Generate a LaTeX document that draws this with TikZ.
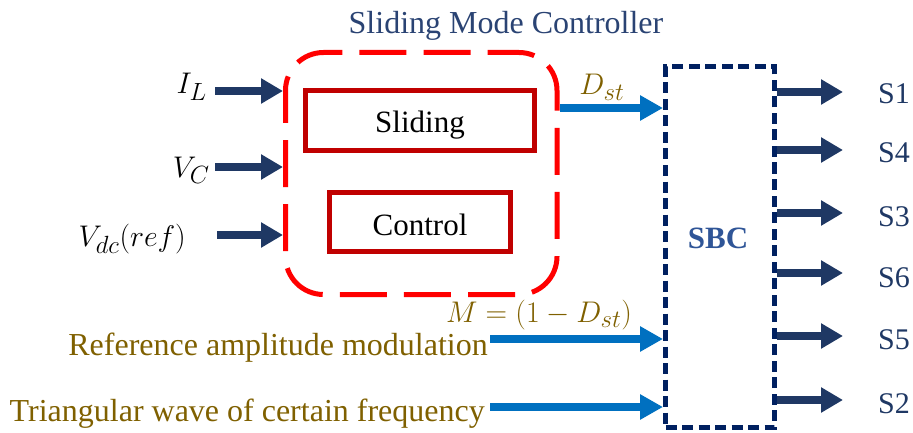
\documentclass[tikz,border=0pt]{standalone}
\usepackage{fontspec}
\setmainfont{Liberation Serif}
\usetikzlibrary{arrows.meta}
\definecolor{navy}{HTML}{1F3864}
\definecolor{titleblue}{HTML}{2A4373}
\definecolor{smcred}{HTML}{FF0000}
\definecolor{blockred}{HTML}{C00000}
\definecolor{sigblue}{HTML}{0070C0}
\definecolor{olive}{HTML}{7F6000}
\definecolor{sbcnavy}{HTML}{002060}
\definecolor{sbctext}{HTML}{2F5597}
\newcommand\fsz[1]{\fontsize{#1}{#1}\selectfont}
% math set at the largest CM size, then enlarged
\newcommand\bigmath[1]{\scalebox{1.2}{$#1$}}
\tikzset{
  navyarr/.style={draw=navy, line width=8pt, -{Triangle[length=22pt,width=24pt]}},
  bluearr/.style={draw=sigblue, line width=8pt, -{Triangle[length=23pt,width=24pt]}},
  txt/.style={inner sep=0pt, anchor=base},
  mathlbl/.style={inner sep=0pt, font=\fsz{24.88}},
  blockbox/.style={draw=blockred, line width=5pt, inner sep=0pt, font=\fsz{31}},
  slabel/.style={inner sep=0pt, anchor=base west, font=\fsz{30}, text=navy},
  % 15 dash periods fit the frame's perimeter exactly
  redframe/.style={draw=smcred, line width=5pt, rounded corners=38pt,
                   dash pattern=on 47pt off 17.12pt, dash phase=47pt},
}
\begin{document}
\begin{tikzpicture}[x=1pt,y=-1pt]
\useasboundingbox (0,0) rectangle (913,433);

% controller frame (open path that ends where it starts) and its two blocks
\node[inner sep=0pt, outer sep=2.5pt, minimum width=271.5pt, minimum height=242pt]
  (smc) at (421.25,173.5) {};
\draw[redframe] ([shift={(2.5pt,50.5pt)}]smc.west) -- ([shift={(2.5pt,2.5pt)}]smc.south west)
  -- ([shift={(-2.5pt,2.5pt)}]smc.south east) -- ([shift={(-2.5pt,-2.5pt)}]smc.north east)
  -- ([shift={(2.5pt,-2.5pt)}]smc.north west) -- ([shift={(2.5pt,50.5pt)}]smc.west);
\node[txt, font=\fsz{32}, text=titleblue] (title) at (506,34) {Sliding Mode Controller};
\node[blockbox, minimum width=229pt, minimum height=60pt] (slide) at (420,120.5) {};
\node[txt, font=\fsz{31}] (slidetxt) at (420,133) {Sliding};
\node[blockbox, minimum width=181pt, minimum height=59pt] (ctrl) at (420,222) {};
\node[txt, font=\fsz{31}] (ctrltxt) at (420,235) {Control};

% switching block
\node[draw=sbcnavy, line width=5pt, dash pattern=on 11pt off 5.5pt,
      minimum width=109pt, minimum height=360.5pt] (sbc) at (720,247.25) {};
\node[txt, font=\bfseries\fsz{31}, text=sbctext] (sbctxt) at (718,248) {SBC};

% measured inputs
\node[mathlbl, anchor=base east] (il) at (207,94) {\bigmath{I_L}};
\node[mathlbl, anchor=base east] (vc) at (210,177) {\bigmath{V_C}};
\node[mathlbl, anchor=base east] (vdc) at (186,246) {\bigmath{V_{dc}(ref)}};
\coordinate (ilt) at (215,91);
\coordinate (vct) at (215,167);
\coordinate (vdct) at (217,235);
\draw[navyarr] (ilt) -- (ilt -| smc.west);
\draw[navyarr] (vct) -- (vct -| smc.west);
\draw[navyarr] (vdct) -- (vdct -| smc.west);

% duty ratio
\draw[bluearr] ([yshift=65.5pt]smc.east) -- ([yshift=65.5pt]smc.east -| sbc.west);
\node[mathlbl, anchor=base, text=olive] (dst) at (602,95) {\bigmath{D_{st}}};

% modulation inputs
\node[mathlbl, anchor=base, text=olive] (mlbl) at (539,322) {\bigmath{M=(1-D_{st})}};
\node[txt, anchor=base east, font=\fsz{32}, text=olive] (reflbl) at (488,355) {Reference amplitude modulation};
\node[txt, anchor=base east, font=\fsz{32}, text=olive] (trilbl) at (485,421) {Triangular wave of certain frequency};
\coordinate (reft) at (490,339);
\coordinate (trit) at (490,407);
\draw[bluearr] (reft) -- (reft -| sbc.west);
\draw[bluearr] (trit) -- (trit -| sbc.west);

% gate signals
\foreach \n/\ay/\ly in {S1/92/104, S4/150/163, S3/213/226, S6/273/287, S5/336/349, S2/400/413}{
  \coordinate (tip\n) at (843,\ay);
  \draw[navyarr] (tip\n -| sbc.east) -- (tip\n);
  \node[slabel] (lbl\n) at (878,\ly) {\n};
}
\end{tikzpicture}
\end{document}
